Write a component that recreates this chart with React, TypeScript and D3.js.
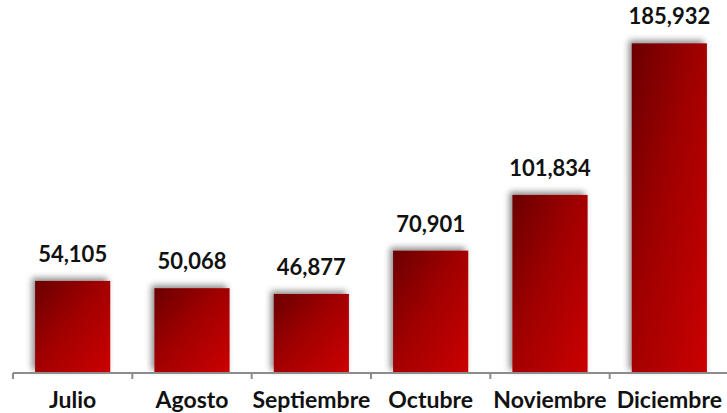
import React from 'react';
import * as d3 from 'd3';

const months = ['Julio', 'Agosto', 'Septiembre', 'Octubre', 'Noviembre', 'Diciembre'];
const totals = [54105, 50068, 46877, 70901, 101834, 185932];

const W = 727;
const H = 413;
const margin = { top: 18, right: -2, bottom: 40, left: 13 };

export default function App() {
  const innerW = W - margin.left - margin.right;
  const innerH = H - margin.top - margin.bottom;

  // band scale: ticks sit on band edges like the original axis
  const x = d3.scaleBand<string>().domain(months).range([0, innerW]).padding(0);
  const y = d3.scaleLinear().domain([3000, 200000]).range([innerH, 0]);
  const barW = x.bandwidth() * 0.63;
  const fmt = d3.format(',');

  const edges = months.map((m) => x(m) as number).concat([innerW]);

  return (
    <svg width={W} height={H} style={{ position: 'absolute', left: 0, top: 0, background: '#fff' }}>
      <defs>
        <linearGradient id="barGrad" x1="0" y1="0" x2="1" y2="1">
          <stop offset="0%" stopColor="#6a0000" />
          <stop offset="45%" stopColor="#a00000" />
          <stop offset="100%" stopColor="#cc0000" />
        </linearGradient>
        <filter id="shadow" x="-20%" y="-20%" width="140%" height="140%">
          <feDropShadow dx="-3" dy="-3" stdDeviation="3" floodColor="#000" floodOpacity="0.45" />
        </filter>
      </defs>
      <g transform={`translate(${margin.left},${margin.top})`}>
        {months.map((m, i) => {
          const cx = (x(m) as number) + x.bandwidth() / 2;
          return (
            <g key={m}>
              <rect
                x={cx - barW / 2}
                y={y(totals[i])}
                width={barW}
                height={innerH - y(totals[i])}
                fill="url(#barGrad)"
                filter="url(#shadow)"
              />
              <text
                x={cx}
                y={y(totals[i]) - 19}
                textAnchor="middle"
                fontFamily="Lato, 'Open Sans', sans-serif"
                fontWeight="bold"
                fontSize={22}
                fill="#111"
              >
                {fmt(totals[i])}
              </text>
              <text
                x={cx}
                y={innerH + 35}
                textAnchor="middle"
                fontFamily="Lato, 'Open Sans', sans-serif"
                fontWeight="bold"
                fontSize={23}
                fill="#111"
              >
                {m}
              </text>
            </g>
          );
        })}
        <line x1={0} x2={innerW} y1={innerH} y2={innerH} stroke="#8c8c8c" strokeWidth={2} />
        {edges.map((e, i) => (
          <line key={i} x1={e} x2={e} y1={innerH} y2={innerH + 6} stroke="#8c8c8c" strokeWidth={2} />
        ))}
      </g>
    </svg>
  );
}
